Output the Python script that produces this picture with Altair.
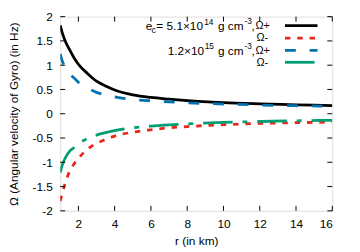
import altair as alt
import pandas as pd

r_km = [1, 1.1, 1.25, 1.5, 1.75, 2, 2.5, 3, 3.5, 4, 5, 6, 7, 8, 10, 12, 14, 16]
omega_p_514 = [1.82, 1.68, 1.52, 1.33, 1.16, 1.02, 0.83, 0.67, 0.57, 0.49, 0.39, 0.335, 0.30, 0.27, 0.23, 0.205, 0.185, 0.165]
omega_m_514 = [-1.80, -1.65, -1.46, -1.20, -1.04, -0.92, -0.73, -0.61, -0.53, -0.46, -0.38, -0.33, -0.29, -0.265, -0.225, -0.20, -0.185, -0.17]
omega_p_12 = [1.23, 1.10, 0.97, 0.83, 0.74, 0.65, 0.53, 0.44, 0.39, 0.35, 0.295, 0.265, 0.245, 0.225, 0.20, 0.18, 0.165, 0.155]
omega_m_12 = [-1.21, -1.07, -0.93, -0.78, -0.70, -0.62, -0.51, -0.44, -0.39, -0.35, -0.29, -0.255, -0.23, -0.21, -0.18, -0.16, -0.145, -0.135]

x_ticks = [2, 4, 6, 8, 10, 12, 14, 16]
y_ticks = [-2, -1.5, -1, -0.5, 0, 0.5, 1, 1.5, 2]

W, H = 276, 197
FONT = "Liberation Sans"

series = [
    ("p514", omega_p_514, "#000000", []),
    ("m514", omega_m_514, "#e8261a", [5.5, 7]),
    ("p12", omega_p_12, "#0072b2", [11, 14]),
    ("m12", omega_m_12, "#009e73", [30, 10, 5, 10]),
]

rows = []
for name, vals, _, _ in series:
    for r, v in zip(r_km, vals):
        rows.append({"series": name, "r": r, "v": v})
df = pd.DataFrame(rows)

xs = alt.Scale(domain=[1, 16], nice=False, zero=False)
ys = alt.Scale(domain=[-2, 2], nice=False, zero=False)

X_AX = alt.Axis(values=x_ticks, title="r (in km)", tickSize=0, domain=False, grid=False,
                labelFont=FONT, labelFontSize=12, labelColor="black", labelPadding=8,
                titleFont=FONT, titleFontSize=12, titleFontWeight="normal", titleColor="black",
                titlePadding=6)
Y_AX = alt.Axis(values=y_ticks, title="Ω (Angular velocity of Gyro) (in Hz)", tickSize=0,
                domain=False, grid=False, labelExpr="datum.value + ''",
                labelFont=FONT, labelFontSize=12, labelColor="black", labelPadding=8,
                titleFont=FONT, titleFontSize=12, titleFontWeight="normal", titleColor="black",
                titlePadding=12)

base = alt.Chart(df)
layers = []
for name, vals, color, dash in series:
    mk = dict(color=color, strokeWidth=2.8, interpolate="monotone", clip=True)
    if dash:
        mk["strokeDash"] = dash
    layers.append(base.transform_filter(alt.datum.series == name).mark_line(**mk).encode(
        x=alt.X("r:Q", scale=xs, axis=X_AX),
        y=alt.Y("v:Q", scale=ys, axis=Y_AX),
    ))

# inward mirrored ticks
xt = pd.DataFrame({"r": x_ticks})
yt = pd.DataFrame({"v": y_ticks})
tick_style = dict(color="black", strokeWidth=1)
layers.append(alt.Chart(xt).mark_rule(**tick_style).encode(x=alt.X("r:Q", scale=xs, axis=X_AX), y=alt.value(H), y2=alt.value(H - 5)))
layers.append(alt.Chart(xt).mark_rule(**tick_style).encode(x=alt.X("r:Q", scale=xs, axis=X_AX), y=alt.value(0), y2=alt.value(5)))
layers.append(alt.Chart(yt).mark_rule(**tick_style).encode(y=alt.Y("v:Q", scale=ys, axis=Y_AX), x=alt.value(0), x2=alt.value(5)))
layers.append(alt.Chart(yt).mark_rule(**tick_style).encode(y=alt.Y("v:Q", scale=ys, axis=Y_AX), x=alt.value(W), x2=alt.value(W - 5)))

# legend
pieces = [
    # text, x, y, size, align
    ("e", 86.7, 10, 12, "left"),
    ("c", 92.7, 13.5, 9, "left"),
    ("= 5.1×10", 97.5, 10, 12, "left"),
    ("14", 146, 5, 8.5, "left"),
    ("g cm", 160, 10, 12, "left"),
    ("-3", 187, 4.5, 8.5, "left"),
    (",", 194, 10, 12, "left"),
    ("Ω+", 198, 9.5, 11, "left"),
    ("Ω-", 211, 22, 11, "right"),
    ("1.2×10", 146, 35, 12, "right"),
    ("15", 146.5, 30, 8.5, "left"),
    ("g cm", 160, 35, 12, "left"),
    ("-3", 187, 30, 8.5, "left"),
    (",", 194, 35, 12, "left"),
    ("Ω+", 198, 35, 11, "left"),
    ("Ω-", 211, 47.5, 11, "right"),
]
for txt, x, y, size, align in pieces:
    layers.append(alt.Chart(pd.DataFrame({"k": [txt]})).mark_text(
        font=FONT, fontSize=size, align=align, baseline="middle", color="black"
    ).encode(text="k:N", x=alt.value(x), y=alt.value(y)))

leg_y = [9, 21.7, 34.3, 46.3]
for (name, vals, color, dash), y in zip(series, leg_y):
    mk = dict(color=color, strokeWidth=2.8)
    if dash:
        mk["strokeDash"] = dash
    layers.append(alt.Chart(pd.DataFrame({"k": [name]})).mark_rule(**mk).encode(
        x=alt.value(228), x2=alt.value(261), y=alt.value(y)))

chart = alt.layer(*layers).properties(
    width=W, height=H,
    autosize=alt.AutoSizeParams(type="none"),
    padding={"left": 53, "top": 7, "right": 20, "bottom": 40},
).configure_view(stroke="black", strokeWidth=1.2).configure(background="white")

chart.save("out.html", embed_options={"renderer": "svg", "actions": False})
